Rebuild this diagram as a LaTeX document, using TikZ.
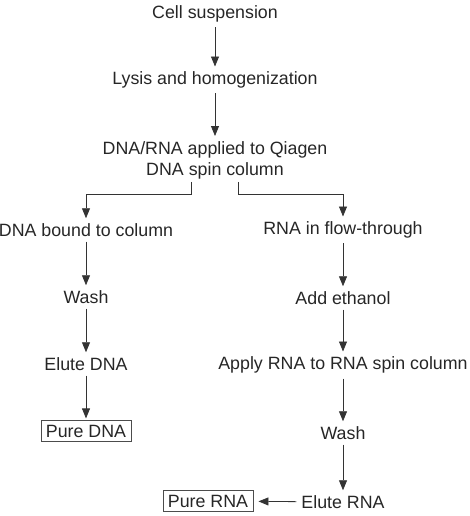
\documentclass[tikz,border=0pt]{standalone}
\usepackage{fontspec}
\setmainfont{Liberation Sans}
\usetikzlibrary{arrows.meta}
\begin{document}
\begin{tikzpicture}[x=1pt,y=-1pt,
    stage/.style={text=black!85, inner sep=3pt, font=\fontsize{17.8}{21}\selectfont},
    result/.style={stage, draw=black!70, line width=0.8pt, inner xsep=5pt, inner ysep=4pt},
    flow/.style={-{Triangle[length=10pt,width=8pt]}, draw=black!80, line width=0.8pt,
        shorten <=2pt, shorten >=2pt}]
    % Page frame
    \useasboundingbox (0,0) rectangle (470,516);

    % Common steps
    \node[stage] (cells) at (215,14) {Cell suspension};
    \node[stage] (lysis) at (215,80) {Lysis and homogenization};
    \node[stage, align=center] (apply) at (215,160) {DNA/RNA applied to Qiagen\\DNA spin column};

    % DNA branch
    \node[stage] (bound) at (86,230) {DNA bound to column};
    \node[stage] (washdna) at (86,297) {Wash};
    \node[stage] (elutedna) at (86,364) {Elute DNA};
    \node[result] (puredna) at (86,431) {Pure DNA};

    % RNA branch
    \node[stage] (through) at (343,230) {RNA in flow-through};
    \node[stage] (ethanol) at (343,298) {Add ethanol};
    \node[stage] (column) at (343,365) {Apply RNA to RNA spin column};
    \node[stage] (washrna) at (343,433) {Wash};
    \node[stage] (eluterna) at (343,502) {Elute RNA};
    \node[result] (purerna) at (208,501) {Pure RNA};

    % Arrows
    \draw[flow] (cells) -- (lysis);
    \draw[flow] (lysis) -- (apply);
    \draw[flow, shorten <=0pt] ([xshift=-24pt]apply.south) -- ++(0,12) -| (bound.north);
    \draw[flow, shorten <=0pt] ([xshift=23pt]apply.south) -- ++(0,12) -| (through.north);
    \draw[flow] (bound) -- (washdna);
    \draw[flow] (washdna) -- (elutedna);
    \draw[flow] (elutedna) -- (puredna);
    \draw[flow] (through) -- (ethanol);
    \draw[flow] (ethanol) -- (column);
    \draw[flow] (column) -- (washrna);
    \draw[flow] (washrna) -- (eluterna);
    \draw[flow, shorten >=5pt] (eluterna) -- (purerna);
\end{tikzpicture}
\end{document}
